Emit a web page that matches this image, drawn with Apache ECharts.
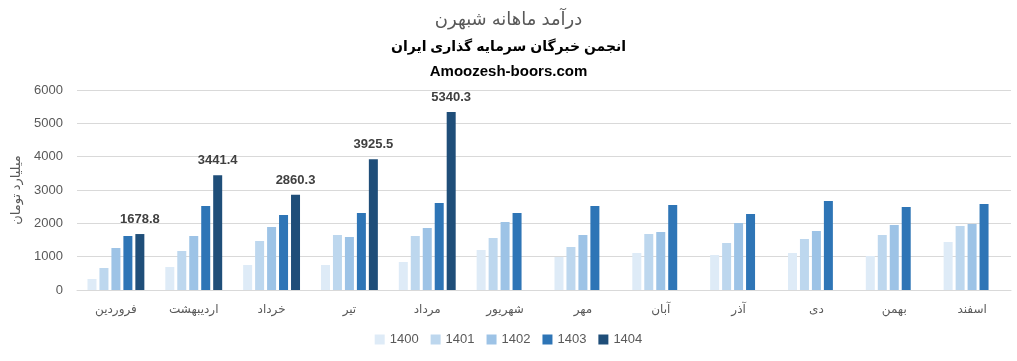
<!DOCTYPE html>
<html><head><meta charset="utf-8">
<script src="https://cdn.jsdelivr.net/npm/echarts@6/dist/echarts.min.js"></script>
<style>html,body{margin:0;padding:0;background:#fff}#c{width:1017px;height:361px}</style>
</head><body><div id="c"></div>
<script>
const months = ['فروردین','اردیبهشت','خرداد','تیر','مرداد','شهریور','مهر','آبان','آذر','دی','بهمن','اسفند'];
const seriesNames = ['1400','1401','1402','1403','1404'];
const v1400 = [330,690,750,750,840,1200,990,1110,1050,1110,1020,1440];
const v1401 = [660,1170,1470,1650,1620,1560,1290,1680,1410,1530,1650,1920];
const v1402 = [1260,1620,1890,1590,1860,2040,1650,1740,2010,1770,1950,1980];
const v1403 = [1620,2520,2250,2310,2610,2310,2520,2550,2280,2670,2490,2580];
const v1404 = [1678.8,3441.4,2860.3,3925.5,5340.3,null,null,null,null,null,null,null];
const colors = ['#DEEBF7','#BDD7EE','#9DC3E6','#2E75B6','#1F4E79'];
const yTicks = {min:0,max:6000,interval:1000};

const FONT = '"Liberation Sans","DejaVu Sans",Arial,sans-serif';
const allValues = [v1400,v1401,v1402,v1403,v1404];
const chart = echarts.init(document.getElementById('c'));
chart.setOption({
  animation:false,
  color: colors,
  textStyle:{fontFamily:FONT},
  title:[
    {text:'درآمد ماهانه شبهرن',left:'center',top:6,textStyle:{fontSize:18,fontWeight:'normal',color:'#595959',fontFamily:FONT}},
    {text:'انجمن خبرگان سرمایه گذاری ایران',left:'center',top:35,textStyle:{fontSize:14,fontWeight:'bold',color:'#000',fontFamily:FONT}},
    {text:'Amoozesh-boors.com',left:'center',top:59,textStyle:{fontSize:15,fontWeight:'bold',color:'#000',fontFamily:FONT}}
  ],
  grid:{left:77,right:6,top:90,bottom:71,containLabel:false},
  legend:{bottom:10,left:'center',itemWidth:10,itemHeight:10,itemGap:12,icon:'rect',
    textStyle:{fontSize:13,color:'#595959',fontFamily:FONT},data:seriesNames},
  xAxis:{type:'category',data:months,axisTick:{show:false},
    axisLine:{lineStyle:{color:'#D9D9D9'}},
    axisLabel:{fontSize:12,color:'#595959',margin:14,fontFamily:FONT}},
  yAxis:{type:'value',min:yTicks.min,max:yTicks.max,interval:yTicks.interval,
    name:'میلیارد تومان',nameLocation:'middle',nameGap:43,nameRotate:90,
    nameTextStyle:{fontSize:13,color:'#595959',fontFamily:FONT},
    axisLabel:{fontSize:13,color:'#595959',margin:14,fontFamily:FONT,formatter:v=>String(v)},
    splitLine:{lineStyle:{color:'#D9D9D9'}}},
  series: seriesNames.map((n,i)=>({
    name:n,type:'bar',data:allValues[i],barWidth:9,barGap:'33%',
    label: i===4 ? {show:true,position:'top',distance:8,fontSize:13,fontWeight:'bold',color:'#404040',fontFamily:FONT,
      formatter:p=>p.value==null?'':p.value.toFixed(1)} : {show:false}
  }))
});
</script></body></html>
